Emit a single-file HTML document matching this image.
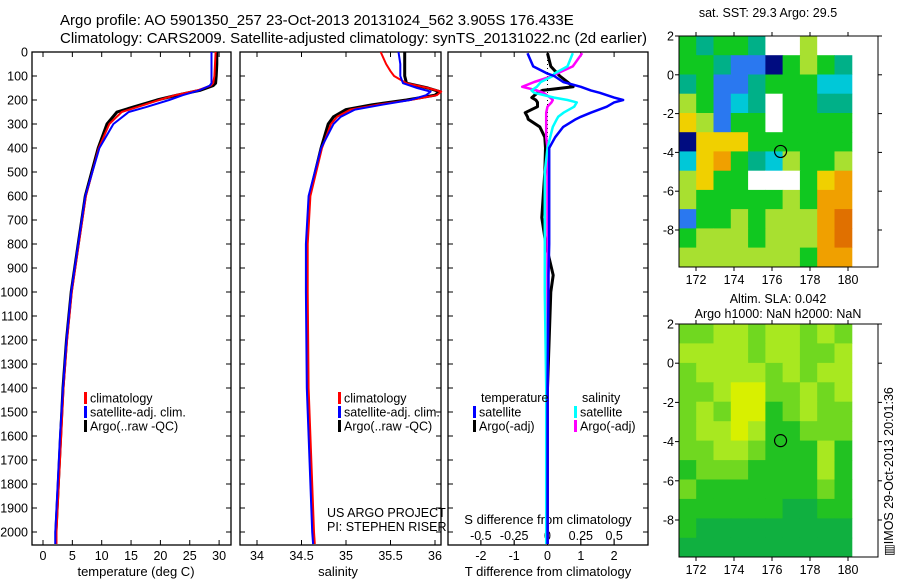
<!DOCTYPE html>
<html><head><meta charset="utf-8"><style>
body{margin:0;background:#fff}
svg{display:block;font-family:"Liberation Sans",sans-serif}
text{fill:#000}
</style></head><body>
<svg id="fig" width="900" height="580" viewBox="0 0 900 580">
<g id="static">
<text x="60" y="25" font-size="15">Argo profile: AO 5901350_257 23-Oct-2013 20131024_562 3.905S 176.433E</text>
<text x="60" y="43" font-size="15">Climatology: CARS2009. Satellite-adjusted climatology: synTS_20131022.nc (2d earlier)</text>
<text x="136" y="576" font-size="13" text-anchor="middle">temperature (deg C)</text>
<text x="338" y="576" font-size="13" text-anchor="middle">salinity</text>
<text x="548" y="576" font-size="13" text-anchor="middle">T difference from climatology</text>
<text x="548" y="524" font-size="13" text-anchor="middle">S difference from climatology</text>
<text x="327" y="517" font-size="12.5">US ARGO PROJECT</text>
<text x="327" y="531" font-size="12.5">PI: STEPHEN RISER</text>
<text x="768" y="17" font-size="12.5" text-anchor="middle">sat. SST: 29.3 Argo: 29.5</text>
<text x="778" y="303" font-size="12.5" text-anchor="middle">Altim. SLA: 0.042</text>
<text x="778" y="318" font-size="12.5" text-anchor="middle">Argo h1000: NaN h2000: NaN</text>
<text x="0" y="0" font-size="12.5" transform="translate(893,556) rotate(-90)">▥IMOS 29-Oct-2013 20:01:36</text>
</g>
</svg>
<script>
// ---- data ----
const depthT = [0,50,100,130,140,160,180,200,230,250,300,400,600,800,1000,1200,1400,1600,1800,2000,2050];
const tempArgo = [29.6,29.6,29.5,29.4,29.0,26.7,22.8,19.4,15.3,12.6,10.9,9.4,7.2,6.0,4.8,4.0,3.4,3.0,2.6,2.2,2.2];
const tempClim = [29.4,29.3,29.2,29.0,28.6,26.3,22.5,19.8,16.0,13.4,11.3,9.5,7.3,6.1,4.9,4.1,3.5,3.1,2.7,2.3,2.3];
const tempSat  = [28.7,28.7,28.7,28.7,28.4,26.6,23.8,21.5,17.5,14.6,12.0,9.6,7.2,6.0,4.8,4.0,3.4,2.9,2.5,2.1,2.1];
const depthS = [0,50,80,100,130,150,165,180,200,220,240,270,300,400,600,800,1000,1400,2000,2050];
const salArgo = [35.66,35.66,35.66,35.66,35.68,35.92,36.05,36.0,35.68,35.29,35.0,34.86,34.8,34.72,34.59,34.56,34.56,34.57,34.63,34.64];
const salClim = [35.39,35.45,35.50,35.54,35.68,35.92,36.07,36.02,35.72,35.35,35.05,34.9,34.83,34.73,34.6,34.57,34.57,34.58,34.64,34.65];
const salSat  = [35.59,35.61,35.61,35.61,35.64,35.80,35.95,35.90,35.72,35.40,35.10,34.94,34.86,34.72,34.58,34.55,34.55,34.56,34.62,34.63];
const depthD = [5,60,90,100,125,145,160,170,190,200,210,228,253,270,280,312,355,400,500,690,800,930,1000,1400,2050];
const dTSat  = [-0.6,-0.43,0,0.2,0.47,1.0,1.3,1.57,2.0,2.27,2.0,1.78,1.3,1.0,0.85,0.47,0.23,0.05,0.05,0.05,0.05,0.03,0.03,0,0];
const dTArgo = [0,0.1,0.3,0.37,0.6,0.77,-0.15,-0.3,-0.47,-0.35,-0.3,-0.3,-0.67,-0.6,-0.58,-0.23,-0.08,-0.06,-0.08,-0.17,-0.05,0.17,0.1,0,0];
const dSSat  = [0.19,0.15,0.05,0.04,-0.05,-0.08,-0.12,-0.1,0.05,0.15,0.22,0.2,0.12,0.08,0.07,0.04,0.02,0,-0.02,-0.02,-0.02,-0.02,-0.02,-0.01,-0.01];
const dSArgo = [0.26,0.19,0.07,0.04,-0.1,-0.19,-0.08,-0.03,0.02,0.04,0.03,0.0,-0.01,-0.01,-0.01,-0.01,-0.01,0,0,0,0,0,0,0,0];
const depthTicks = [0,100,200,300,400,500,600,700,800,900,1000,1100,1200,1300,1400,1500,1600,1700,1800,1900,2000];
const tempTicks = [0,5,10,15,20,25,30];
const salTicks = [34,34.5,35,35.5,36];
const tdTicks = [-2,-1,0,1,2];
const sdTicks = [-0.5,-0.25,0,0.25,0.5];
const sdTickLabels = ["-0.5","-0.25","0","0.25","0.5"];
const lonTicks = [172,174,176,178,180];
const latTicks = [2,0,-2,-4,-6,-8];
const argoLon = 176.45, argoLat = -3.95;
// SST class grid (rows lat 2→-9.9, cols lon 171.1→180.2); 0 = no data
const sstGrid = [
[5,4,5,5,4,0,0,6,0,0],
[5,5,4,2,2,1,5,6,5,4],
[4,5,2,2,4,5,5,5,3,3],
[6,5,2,3,4,0,5,5,4,4],
[7,6,2,5,5,0,5,5,5,5],
[1,7,7,7,5,5,5,5,5,5],
[3,7,8,5,4,3,6,5,5,6],
[6,7,5,5,0,0,0,5,7,8],
[6,5,5,5,5,5,6,5,8,8],
[2,5,5,6,5,6,6,6,8,9],
[5,6,6,6,5,6,6,6,8,9],
[6,6,6,6,6,6,6,5,8,8]];
const slaGrid = [
[2,2,3,3,2,3,3,2,3,2],
[3,3,3,3,2,3,3,2,2,3],
[2,3,3,3,3,2,3,2,3,3],
[2,2,3,4,4,2,2,3,2,3],
[2,3,2,4,4,1,2,3,2,2],
[2,3,3,4,3,1,1,2,2,2],
[2,2,3,3,2,1,1,1,3,1],
[1,2,2,2,1,1,1,1,3,1],
[2,1,1,1,1,1,1,1,2,1],
[1,1,1,1,1,1,0,0,1,1],
[1,0,0,0,0,0,0,0,0,0],
[0,0,0,0,0,0,0,0,0,0]];
const sstColors = ["#ffffff","#000c80","#2a78f0","#00c8d8","#00b088","#10c820","#a8e030","#f0d000","#f0a000","#e07000"];
const slaColors = ["#10b040","#22c222","#70d820","#a8e820","#d8f000"];

// ---- drawing ----
const NS = "http://www.w3.org/2000/svg";
const svg = document.getElementById('fig');
function mk(tag, attrs, parent){const e=document.createElementNS(NS,tag);for(const k in attrs)e.setAttribute(k,attrs[k]);(parent||svg).appendChild(e);return e;}
const TOP=52, BOT=545;
const yD = d => TOP + d*0.24;
const xT = t => 43 + t*5.87;
const xS = s => 257 + (s-34)*89;
const xTD = v => 547.5 + v*33.3;
const xSD = v => 547.5 + v*133.3;

function panel(x0,x1,name){
  const r = mk('rect',{x:x0,y:TOP,width:x1-x0,height:BOT-TOP,fill:'none',stroke:'#000','stroke-width':1.3});
  
  
}
panel(32,231,'temperature-panel');
panel(240,441,'salinity-panel');
panel(448,648,'difference-panel');

depthTicks.forEach(d=>{
  const y=yD(d);
  const t=mk('text',{x:28,y:y+4.5,'font-size':12.5,'text-anchor':'end'});
  t.textContent=d;
  
  
  [[32,37],[226,231],[240,245],[436,441],[448,453],[643,648]].forEach(p=>mk('line',{x1:p[0],x2:p[1],y1:y,y2:y,stroke:'#000'}));
});
function xticks(arr,fx,labels,ylab,name,inner){
  arr.forEach((v,i)=>{
    const x=fx(v);
    if(inner!==false){mk('line',{x1:x,x2:x,y1:BOT,y2:BOT-5,stroke:'#000'});mk('line',{x1:x,x2:x,y1:TOP,y2:TOP+5,stroke:'#000'});}
    else {mk('line',{x1:x,x2:x,y1:BOT,y2:BOT-5,stroke:'#000'});}
    const t=mk('text',{x:x,y:ylab,'font-size':12.5,'text-anchor':'middle'});
    t.textContent=labels?labels[i]:v;
    
    
  });
}
xticks(tempTicks,xT,null,560,'temperature-tick-label');
xticks(salTicks,xS,null,560,'salinity-tick-label');
xticks(tdTicks,xTD,null,560,'t-diff-tick-label');
xticks(sdTicks,xSD,sdTickLabels,540,'s-diff-tick-label',false);

// zero line
const z=mk('line',{x1:xTD(0),x2:xTD(0),y1:TOP,y2:BOT,stroke:'#000','stroke-dasharray':'1 3'});



function line(depths,vals,fx,color,w,name){
  const pts=depths.map((d,i)=>fx(vals[i]).toFixed(1)+','+yD(d).toFixed(1)).join(' ');
  const p=mk('polyline',{points:pts,fill:'none',stroke:color,'stroke-width':w,'stroke-linejoin':'round'});
  
  
}
line(depthT,tempArgo,xT,'#000',3,'temp-argo-line');
line(depthT,tempClim,xT,'#f00',2,'temp-climatology-line');
line(depthT,tempSat,xT,'#00f',2,'temp-satellite-line');
line(depthS,salArgo,xS,'#000',3,'sal-argo-line');
line(depthS,salClim,xS,'#f00',2,'sal-climatology-line');
line(depthS,salSat,xS,'#00f',2,'sal-satellite-line');
line(depthD,dTArgo,xTD,'#000',3,'tdiff-argo-line');
line(depthD,dSArgo,xSD,'#f0f',2.5,'sdiff-argo-line');
line(depthD,dSSat,xSD,'#0ff',2.5,'sdiff-satellite-line');
line(depthD,dTSat,xTD,'#00f',2.5,'tdiff-satellite-line');

function legend(x,y,color,label,name){
  const m=mk('rect',{x:x,y:y-6,width:3,height:12,fill:color});
  
  
  const t=mk('text',{x:x+6,y:y+4.5,'font-size':12.5});
  t.textContent=label;
  
  
}
[[84,'temp'],[338,'sal']].forEach(([x,n])=>{
  legend(x,398,'#f00','climatology',n+'-legend-climatology');
  legend(x,412,'#00f','satellite-adj. clim.',n+'-legend-satellite');
  legend(x,426,'#000','Argo(..raw -QC)',n+'-legend-argo');
});
const lt=mk('text',{x:481,y:402,'font-size':12.5});lt.textContent='temperature';


const ls=mk('text',{x:582,y:402,'font-size':12.5});ls.textContent='salinity';


legend(473,412,'#00f','satellite','tdiff-legend-satellite');
legend(473,426,'#000','Argo(-adj)','tdiff-legend-argo');
legend(574,412,'#0ff','satellite','sdiff-legend-satellite');
legend(574,426,'#f0f','Argo(-adj)','sdiff-legend-argo');

// maps
function map(top,bot,lat2y,latScale,grid,colors,name){
  const L=679,R=878;
  const xL = lon => 696 + (lon-172)*19;
  const yL = lat => lat2y + (2-lat)*latScale;
  const lon0=171.1, dLon=0.91, lat0=2, dLat=(2+9.9)/12;
  const g=mk('g',{});
  
  
  grid.forEach((row,ri)=>row.forEach((c,ci)=>{
    const x=xL(lon0+ci*dLon), y=yL(lat0-ri*dLat);
    const w=xL(lon0+(ci+1)*dLon)-x, h=yL(lat0-(ri+1)*dLat)-y;
    const r=mk('rect',{x:x.toFixed(1),y:y.toFixed(1),width:(w+0.5).toFixed(1),height:(Math.min(h,bot-y)+0.5).toFixed(1),fill:colors[c]},g);
    
    
  }));
  const fr=mk('rect',{x:L,y:top,width:R-L,height:bot-top,fill:'none',stroke:'#000'});
  
  
  lonTicks.forEach(lon=>{
    const x=xL(lon);
    mk('line',{x1:x,x2:x,y1:bot,y2:bot+4,stroke:'#000'});
    mk('line',{x1:x,x2:x,y1:top,y2:top-4,stroke:'#000'});
    const t=mk('text',{x:x,y:bot+17,'font-size':12.5,'text-anchor':'middle'});t.textContent=lon;
    
    
  });
  latTicks.forEach(lat=>{
    const y=yL(lat);
    mk('line',{x1:L,x2:L-4,y1:y,y2:y,stroke:'#000'});
    mk('line',{x1:R,x2:R+4,y1:y,y2:y,stroke:'#000'});
    const t=mk('text',{x:674,y:y+4.5,'font-size':12.5,'text-anchor':'end'});t.textContent=lat;
    
    
  });
  const c=mk('circle',{cx:xL(argoLon),cy:yL(argoLat),r:6,fill:'none',stroke:'#000','stroke-width':1.2});
  
  
}
map(36,267,36,19.4,sstGrid,sstColors,'sst-map');
map(324,557,324,19.6,slaGrid,slaColors,'sla-map');
</script>
</body></html>
